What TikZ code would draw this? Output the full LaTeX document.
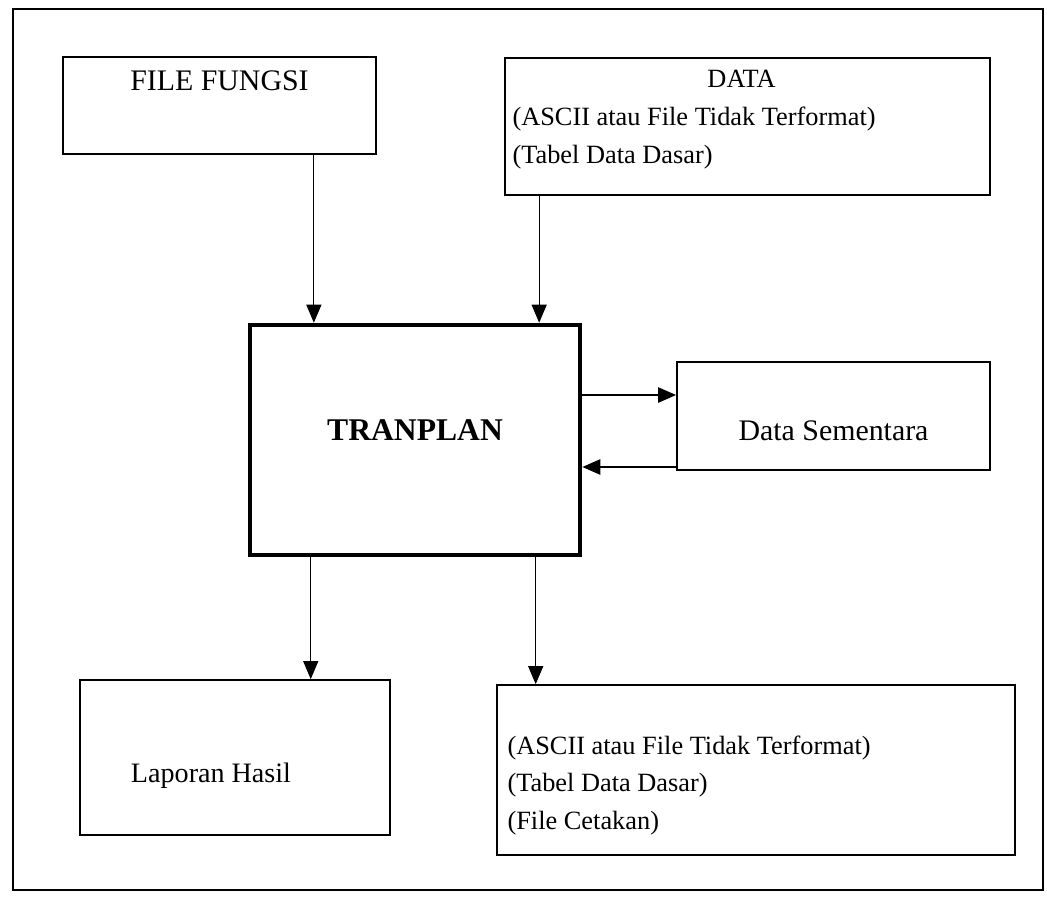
\documentclass[tikz,border=0pt]{standalone}
\usepackage{fontspec}
\setmainfont{Liberation Serif}
\usetikzlibrary{arrows.meta,positioning}

\begin{document}
\begin{tikzpicture}[x=0.02cm,y=-0.02cm,
box/.style={draw,line width=1pt,inner sep=0pt},
txt/.style={font=\fontsize{15}{21.5}\selectfont,align=left,inner sep=0pt},
arr/.style={-{Triangle[length=3.6mm,width=3mm]},line width=0.7pt}]
\useasboundingbox (0,0) rectangle (1047,899);
\draw[line width=1.4pt] (13,9) rectangle (1043,890);
\node[box,minimum width=6.26cm,minimum height=1.94cm,
  label={[txt,font=\fontsize{17}{20}\selectfont,anchor=north,yshift=-0.28cm]north:FILE FUNGSI}] (fungsi) at (219.5,105.5) {};
\node[box,minimum width=9.7cm,minimum height=2.74cm,
  label={[txt,anchor=north west,xshift=0.16cm,yshift=-0.26cm]north west:{\hspace*{3.9cm}DATA\\(ASCII atau File Tidak Terformat)\\(Tabel Data Dasar)}}] (data) at (747.5,126.5) {};
\node[box,line width=2.6pt,minimum width=6.6cm,minimum height=4.6cm,font=\fontsize{18}{20}\selectfont\bfseries,text depth=0.4cm] (tranplan) at (415,440) {TRANPLAN};
\node[box,minimum width=6.26cm,minimum height=2.16cm,font=\fontsize{17}{20}\selectfont,text height=1cm] (sementara) at (833.5,416) {Data Sementara};
\node[box,minimum width=6.2cm,minimum height=3.1cm,
  label={[txt,font=\fontsize{16}{20}\selectfont,xshift=-0.48cm,yshift=-0.36cm]center:Laporan Hasil}] (laporan) at (235,757.5) {};
\node[box,minimum width=10.36cm,minimum height=3.4cm,
  label={[txt,anchor=north west,xshift=0.22cm,yshift=-1.02cm]north west:{(ASCII atau File Tidak Terformat)\\(Tabel Data Dasar)\\(File Cetakan)}}] (keluaran) at (756,770) {};
% arus data
\draw[arr] ([xshift=-1.26cm]fungsi.south east) -- ([xshift=-1.26cm]fungsi.south east |- tranplan.north);
\draw[arr] ([xshift=0.7cm]data.south west) -- ([xshift=0.7cm]data.south west |- tranplan.north);
\draw[arr,line width=1.4pt] ([yshift=0.9cm]tranplan.east) -- ([yshift=0.9cm]tranplan.east -| sementara.west);
\draw[arr,line width=1.4pt] ([yshift=-1.02cm]sementara.west) -- ([yshift=-1.02cm]sementara.west -| tranplan.east);
\draw[arr] ([xshift=1.26cm]tranplan.south west) -- ([xshift=1.26cm]tranplan.south west |- laporan.north);
\draw[arr] ([xshift=5.76cm]tranplan.south west) -- ([xshift=5.76cm]tranplan.south west |- keluaran.north);
\end{tikzpicture}
\end{document}
